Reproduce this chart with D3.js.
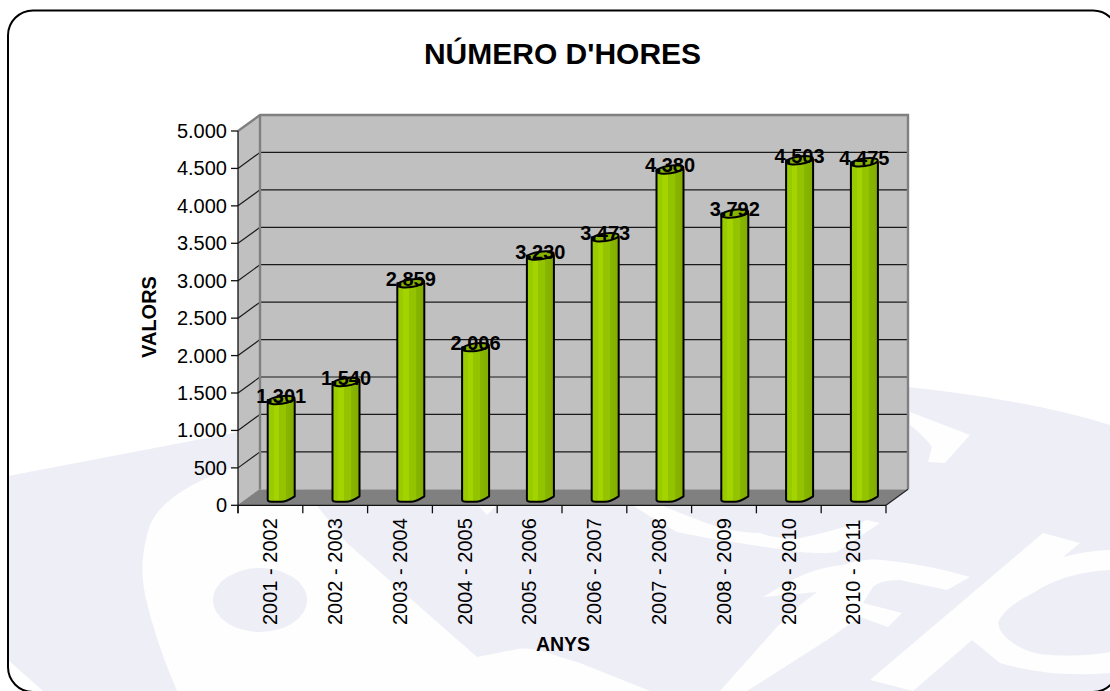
<!DOCTYPE html>
<html><head><meta charset="utf-8">
<script src="https://cdn.jsdelivr.net/npm/d3@7"></script>
<style>html,body{margin:0;padding:0;background:#fff}svg{display:block}text{font-family:"Liberation Sans",Arial,sans-serif;fill:#000}</style>
</head><body><svg id="c" width="1110" height="691"></svg>
<script>
const categories=["2001 - 2002","2002 - 2003","2003 - 2004","2004 - 2005","2005 - 2006","2006 - 2007","2007 - 2008","2008 - 2009","2009 - 2010","2010 - 2011"];
const hours=[1301,1540,2859,2006,3230,3473,4380,3792,4503,4475];
const yTicks=[0,500,1000,1500,2000,2500,3000,3500,4000,4500,5000];
const titleText="NÚMERO D'HORES", xTitle="ANYS", yTitle="VALORS";
const svg=d3.select("#c");
const fmt=v=>d3.format(",")(v).replace(/,/g,".");
const dx=22,dy=-16;
const x=d3.scaleBand().domain(categories).range([238,886]);
const y=d3.scaleLinear().domain([0,5000]).range([505.3,131]);
// watermark background
const defs=svg.append("defs");
const frameRect={x:8,y:10.5,w:1110,h:681.5,r:25};
defs.append("clipPath").attr("id","fr").append("rect").attr("x",frameRect.x).attr("y",frameRect.y).attr("width",frameRect.w).attr("height",frameRect.h).attr("rx",frameRect.r);
const wm=svg.append("g").attr("clip-path","url(#fr)");
const lav="#eeeef7",wh="#fefefe";
wm.append("path").attr("fill",lav).attr("d","M8 476 L233 433 Q560 340 908 387 Q1030 400 1110 425 L1110 691 L43 691 L8 660 Z");
wm.append("path").attr("fill",wh).attr("d","M240 465 Q165 490 150 525 Q138 560 145 595 Q155 640 177 691 L650 691 Q610 675 580 663 L560 657 Q530 645 513 650 L477 657 L347 543 L300 485 Z");
wm.append("ellipse").attr("fill",lav).attr("cx",260).attr("cy",600).attr("rx",47).attr("ry",32);
wm.append("path").attr("fill",wh).attr("d","M632 505 Q655 520 677 532 Q705 538 733 542 Q770 548 800 552 Q825 554 837 552 L880 523 L867 520 Q830 532 800 538 Q780 540 760 533 Q730 533 693 518 L660 505 Z");
wm.append("path").attr("fill",wh).attr("d","M478 505 L487 515 L497 505 Z");
wm.append("path").attr("fill",wh).attr("d","M763 597 L780 587 Q810 568 843 565 Q865 558 883 560 Q930 565 970 577 L947 590 L900 580 Q880 580 873 587 L863 603 L902 613 L888 627 L860 617 L827 640 L747 691 L720 691 L777 627 L800 605 L817 592 Z");
wm.append("path").attr("fill",wh).attr("d","M1043 533 L1080 543 L1063 557 Q1085 551 1110 550 L1110 570 Q1065 572 1033 593 Q1003 608 998 623 Q1000 635 1013 643 Q1030 655 1050 655 Q1085 657 1110 652 L1110 673 Q1050 678 1000 663 L972 640 L913 691 L870 680 Z");
wm.append("path").attr("fill",wh).attr("d","M910 412 L970 435 L945 463 L928 462 L932 447 Q925 437 910 425 Z");
// frame
svg.append("rect").attr("x",frameRect.x).attr("y",frameRect.y).attr("width",frameRect.w).attr("height",frameRect.h).attr("rx",frameRect.r).attr("fill","none").attr("stroke","#000").attr("stroke-width",2);
// walls
const x0=x.range()[0],x1=x.range()[1],y0=y(0),yT=y(5000);
const poly=(pts,fill)=>svg.append("polygon").attr("points",pts.map(p=>p.join(",")).join(" ")).attr("fill",fill);
poly([[x0,y0],[x0+dx,y0+dy],[x1+dx,y0+dy],[x1,y0]],"#808080");
poly([[x0,y0],[x0,yT],[x0+dx,yT+dy],[x0+dx,y0+dy]],"#c0c0c0");
poly([[x0+dx,yT+dy],[x1+dx,yT+dy],[x1+dx,y0+dy],[x0+dx,y0+dy]],"#c0c0c0");
const g=svg.append("g").attr("stroke","#1a1a1a").attr("stroke-width",1.2);
yTicks.slice(1,-1).forEach(t=>{
 g.append("line").attr("x1",x0+dx).attr("x2",x1+dx).attr("y1",y(t)+dy).attr("y2",y(t)+dy);
});
yTicks.slice(1,-1).forEach(t=>{
 g.append("line").attr("x1",x0).attr("x2",x0+dx).attr("y1",y(t)).attr("y2",y(t)+dy);
});
svg.append("path").attr("fill","none").attr("stroke","#808080").attr("stroke-width",2.4)
 .attr("d",`M${x0} ${yT}L${x0+dx} ${yT+dy}H${x1+dx}V${y0+dy}`);
svg.append("line").attr("x1",x0+dx).attr("x2",x0+dx).attr("y1",yT+dy).attr("y2",y0+dy).attr("stroke","#808080").attr("stroke-width",2.4);
svg.append("line").attr("x1",x0+dx).attr("x2",x0).attr("y1",y0+dy).attr("y2",y0).attr("stroke","#808080");
svg.append("line").attr("x1",x1+dx).attr("x2",x1).attr("y1",y0+dy).attr("y2",y0).attr("stroke","#222").attr("stroke-width",1.2);
// axes
const ax=svg.append("g").attr("stroke","#111").attr("stroke-width",1.3);
ax.append("line").attr("x1",x0).attr("x2",x0).attr("y1",yT).attr("y2",y0+8);
ax.append("line").attr("x1",x0).attr("x2",x1).attr("y1",y0).attr("y2",y0);
yTicks.forEach(t=>ax.append("line").attr("x1",x0-7).attr("x2",x0).attr("y1",y(t)).attr("y2",y(t)));
categories.forEach(c=>ax.append("line").attr("x1",x(c)).attr("x2",x(c)).attr("y1",y0).attr("y2",y0+8));
ax.append("line").attr("x1",x1).attr("x2",x1).attr("y1",y0).attr("y2",y0+8);
svg.selectAll(".yl").data(yTicks).join("text").attr("x",227).attr("y",d=>y(d)+7).attr("text-anchor","end").attr("font-size",20).attr("fill","#111").text(fmt);
svg.selectAll(".xl").data(categories).join("text").attr("font-size",20)
 .attr("transform",d=>`translate(${x(d)+x.bandwidth()/2+6.8},625) rotate(-90)`).text(d=>d);
// bars
const grad=defs.append("linearGradient").attr("id","cyl");
[[0,"#99cc00"],[.22,"#99cc00"],[.22,"#a3d400"],[.42,"#a3d400"],[.42,"#94c400"],[.68,"#94c400"],[.68,"#88b600"],[1,"#82ac00"]].forEach(s=>grad.append("stop").attr("offset",s[0]).attr("stop-color",s[1]));
const bw=27, off=10.8, mid=dy/2;
const bars=svg.selectAll(".b").data(hours).join("g").attr("transform",(d,i)=>`translate(${x(categories[i])+x.bandwidth()/2+off},0)`);
bars.append("path").attr("fill","url(#cyl)").attr("stroke","#000").attr("stroke-width",2).attr("stroke-linejoin","round")
 .attr("d",d=>{const t=y(d)+mid,b=y0-3.5;return `M${-bw/2} ${t}V${b-2}Q${-bw/2} ${b} ${-bw/2+4} ${b}H${0}Q${5} ${b} ${bw/2} ${b-5.5}V${t}Z`;});
bars.append("g").attr("transform",d=>`translate(0,${y(d)+mid}) rotate(-8)`)
 .append("ellipse").attr("rx",bw/2).attr("ry",3.8).attr("fill","#88b400").attr("stroke","#000").attr("stroke-width",2);
svg.selectAll(".dl").data(hours).join("text").attr("text-anchor","middle").attr("font-size",20).attr("font-weight","bold")
 .attr("x",(d,i)=>x(categories[i])+x.bandwidth()/2+off).attr("y",d=>y(d)-5).text(fmt);
// titles
svg.append("text").attr("x",562.5).attr("y",63.5).attr("text-anchor","middle").attr("font-size",30).attr("font-weight","bold").text(titleText);
svg.append("text").attr("x",563).attr("y",651).attr("text-anchor","middle").attr("font-size",19.5).attr("font-weight","bold").text(xTitle);
svg.append("text").attr("transform","translate(155.5,317) rotate(-90)").attr("text-anchor","middle").attr("font-size",20).attr("font-weight","bold").text(yTitle);
</script></body></html>
